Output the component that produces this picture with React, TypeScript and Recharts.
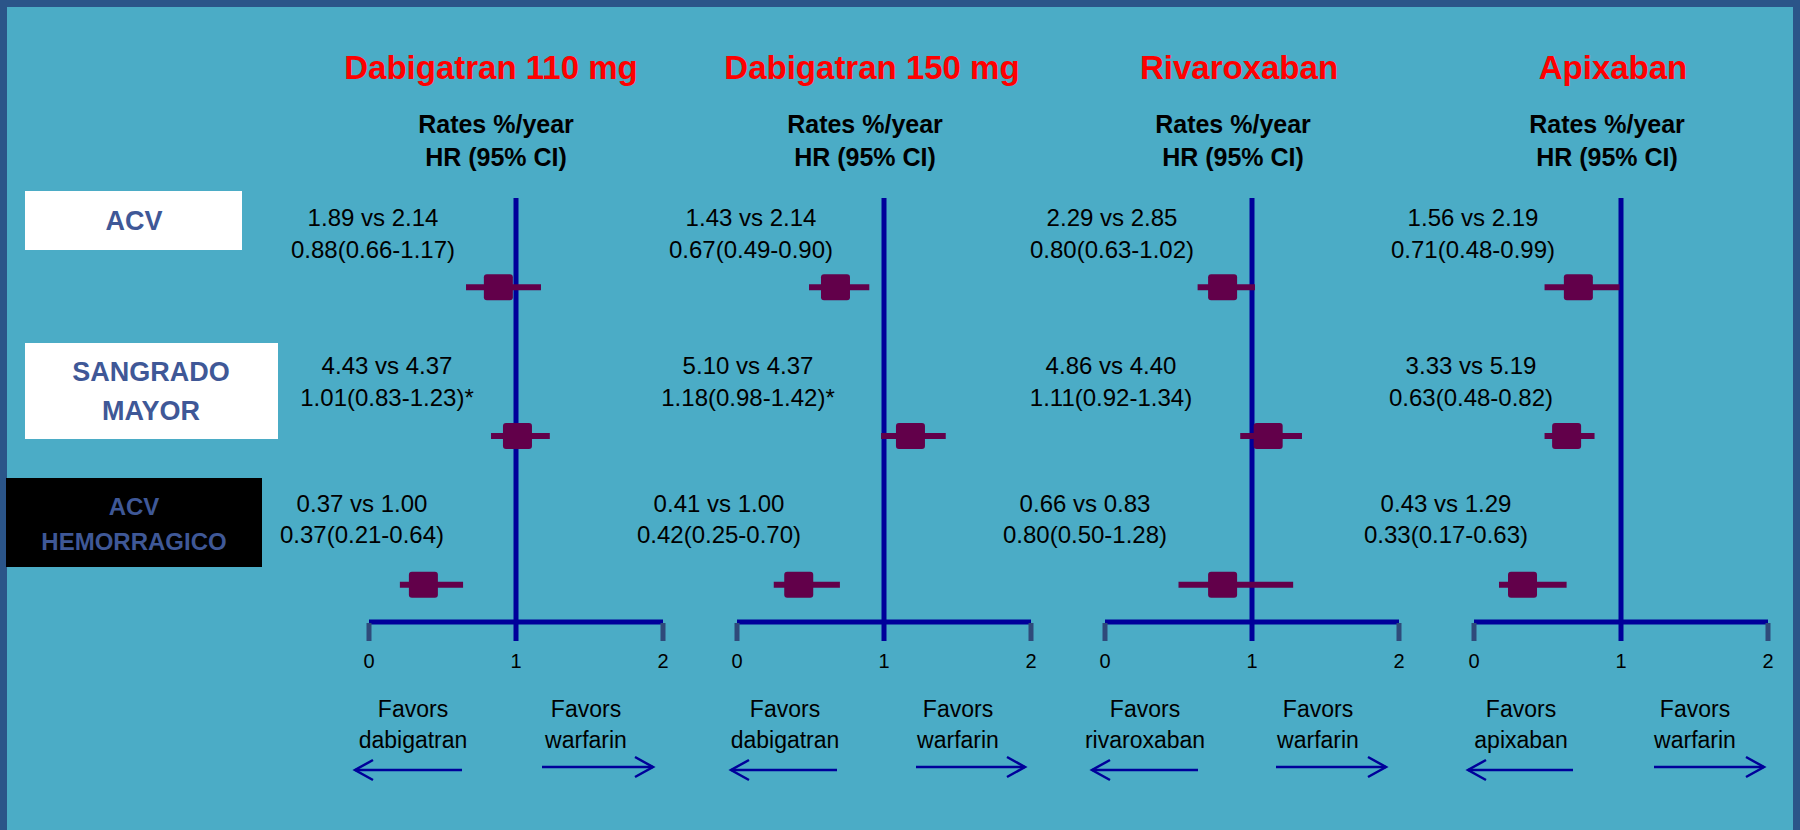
import React from 'react';
import { ScatterChart, Scatter, XAxis, YAxis, ErrorBar, ReferenceLine } from 'recharts';

// forest plot: NOACs vs warfarin, one small chart per drug
const DRUGS = ['Dabigatran 110 mg', 'Dabigatran 150 mg', 'Rivaroxaban', 'Apixaban'];
const FAVORS = ['dabigatran', 'dabigatran', 'rivaroxaban', 'apixaban'];
const OUTCOMES = [['ACV'], ['SANGRADO', 'MAYOR'], ['ACV', 'HEMORRAGICO']];

// rates %/year, drug vs warfarin (rows: ACV, sangrado mayor, ACV hemorragico)
const DRUG_RATE = [[1.89, 4.43, 0.37], [1.43, 5.10, 0.41], [2.29, 4.86, 0.66], [1.56, 3.33, 0.43]];
const WARF_RATE = [[2.14, 4.37, 1.00], [2.14, 4.37, 1.00], [2.85, 4.40, 0.83], [2.19, 5.19, 1.29]];
const HR = [[0.88, 1.01, 0.37], [0.67, 1.18, 0.42], [0.80, 1.11, 0.80], [0.71, 0.63, 0.33]];
const HR_LO = [[0.66, 0.83, 0.21], [0.49, 0.98, 0.25], [0.63, 0.92, 0.50], [0.48, 0.48, 0.17]];
const HR_HI = [[1.17, 1.23, 0.64], [0.90, 1.42, 0.70], [1.02, 1.34, 1.28], [0.99, 0.82, 0.63]];
const MARK = [['', '*', ''], ['', '*', ''], ['', '', ''], ['', '', '']];
const X_TICKS = [0, 1, 2];

// layout (page pixels)
const FONT = "'Liberation Sans', Arial, sans-serif";
const PANEL_X0 = [369, 737, 1105, 1474];
const AXIS_W = 294;
const M = 60;
const PLOT_TOP = 198;
const AXIS_Y = 622;
const TITLE_CX = [491, 872, 1239, 1613];
const RATES_CX = [496, 865, 1233, 1607];
const TEXT_CX = [[373, 387, 362], [751, 748, 719], [1112, 1111, 1085], [1473, 1471, 1446]];
const ROW_BASE = [[226, 258], [374, 406], [512, 543]];
const FAV_CX = [[413, 586], [785, 958], [1145, 1318], [1521, 1695]];
const ARROW_L = [[355, 462], [731, 837], [1092, 1198], [1468, 1573]];
const ARROW_R = [[542, 653], [916, 1025], [1276, 1386], [1654, 1764]];

const NAVY = '#00009a';
const PLUM = '#62004a';
const SLATE = '#3f5897';

const Txt = ({ x, y, size, bold, color = '#000', children }: any) => (
  <div
    style={{
      position: 'absolute',
      left: x - 300,
      width: 600,
      top: y - 0.8465 * size,
      textAlign: 'center',
      fontFamily: FONT,
      fontSize: size,
      lineHeight: `${size}px`,
      fontWeight: bold ? 700 : 400,
      color,
      whiteSpace: 'nowrap',
    }}
  >
    {children}
  </div>
);

const AxisTick = ({ x, payload }: any) => {
  const v = payload.value;
  return (
    <g>
      <line x1={x} x2={x} y1={v === 1 ? AXIS_Y : AXIS_Y + 1} y2={641} stroke={v === 1 ? NAVY : '#2f4a7a'} strokeWidth={5} />
      <text x={x} y={668} textAnchor="middle" fontSize={20} fontFamily={FONT} fill="#000">
        {v}
      </text>
    </g>
  );
};

const Box = (props: any) => {
  const { cx, cy } = props;
  return <rect x={cx - 14.5} y={cy - 13} width={29} height={26} rx={3} fill={PLUM} />;
};

const Panel = ({ i }: { i: number }) => {
  const rows = HR[i].map((hr, r) => ({
    row: r,
    hr,
    err: [hr - HR_LO[i][r], HR_HI[i][r] - hr],
  }));
  return (
    <div style={{ position: 'absolute', left: PANEL_X0[i] - M, top: 0 }}>
      <ScatterChart width={AXIS_W + 2 * M} height={700} margin={{ top: PLOT_TOP, right: M, bottom: 700 - AXIS_Y - 30, left: M }}>
        <XAxis
          type="number"
          dataKey="hr"
          domain={[0, 2]}
          ticks={X_TICKS}
          height={30}
          axisLine={{ stroke: NAVY, strokeWidth: 5 }}
          tickLine={false}
          tickSize={0}
          tick={<AxisTick />}
          allowDataOverflow
        />
        <YAxis type="number" dataKey="row" domain={[-0.6, 2.25]} reversed hide />
        <ReferenceLine x={1} stroke={NAVY} strokeWidth={5} />
        <Scatter data={rows} shape={<Box />} isAnimationActive={false}>
          <ErrorBar dataKey="err" direction="x" width={0} stroke={PLUM} strokeWidth={6} />
        </Scatter>
      </ScatterChart>
    </div>
  );
};

const Arrow = ({ x1, x2, y, left }: any) => {
  const tip = left ? x1 : x2;
  const d = left ? 18 : -18;
  return (
    <g stroke={NAVY} strokeWidth={2.5} fill="none">
      <line x1={x1} x2={x2} y1={y} y2={y} />
      <polyline points={`${tip + d},${y - 10} ${tip},${y} ${tip + d},${y + 10}`} />
    </g>
  );
};

export default function App() {
  return (
    <div style={{ position: 'absolute', left: 0, top: 0, width: 1800, height: 830, overflow: 'hidden', background: '#4bacc6' }}>
      <div style={{ position: 'absolute', left: 0, top: 0, width: 1800, height: 7, background: '#2b5589' }} />
      <div style={{ position: 'absolute', left: 0, top: 0, width: 7, height: 830, background: '#2b5589' }} />
      <div style={{ position: 'absolute', right: 0, top: 0, width: 7, height: 830, background: '#2b5589' }} />

      {/* outcome labels */}
      <div style={{ position: 'absolute', left: 25, top: 191, width: 217, height: 59, background: '#fff' }} />
      <div style={{ position: 'absolute', left: 25, top: 343, width: 253, height: 96, background: '#fff' }} />
      <div style={{ position: 'absolute', left: 6, top: 478, width: 256, height: 89, background: '#000' }} />
      <Txt x={134} y={231} size={27} bold color={SLATE}>{OUTCOMES[0][0]}</Txt>
      <Txt x={151} y={382} size={27} bold color={SLATE}>{OUTCOMES[1][0]}</Txt>
      <Txt x={151} y={421} size={27} bold color={SLATE}>{OUTCOMES[1][1]}</Txt>
      <Txt x={134} y={515} size={24} bold color={SLATE}>{OUTCOMES[2][0]}</Txt>
      <Txt x={134} y={550} size={24} bold color={SLATE}>{OUTCOMES[2][1]}</Txt>

      {DRUGS.map((d, i) => (
        <React.Fragment key={d + i}>
          <Txt x={TITLE_CX[i]} y={79} size={33} bold color="#ff0000">{d}</Txt>
          <Txt x={RATES_CX[i]} y={133} size={25} bold>Rates %/year</Txt>
          <Txt x={RATES_CX[i]} y={166} size={25} bold>HR (95% CI)</Txt>
          {HR[i].map((hr, r) => (
            <React.Fragment key={r}>
              <Txt x={TEXT_CX[i][r]} y={ROW_BASE[r][0]} size={24}>
                {`${DRUG_RATE[i][r].toFixed(2)} vs ${WARF_RATE[i][r].toFixed(2)}`}
              </Txt>
              <Txt x={TEXT_CX[i][r]} y={ROW_BASE[r][1]} size={24}>
                {`${hr.toFixed(2)}(${HR_LO[i][r].toFixed(2)}-${HR_HI[i][r].toFixed(2)})${MARK[i][r]}`}
              </Txt>
            </React.Fragment>
          ))}
          <Panel i={i} />
          <Txt x={FAV_CX[i][0]} y={717} size={23}>Favors</Txt>
          <Txt x={FAV_CX[i][0]} y={748} size={23}>{FAVORS[i]}</Txt>
          <Txt x={FAV_CX[i][1]} y={717} size={23}>Favors</Txt>
          <Txt x={FAV_CX[i][1]} y={748} size={23}>warfarin</Txt>
        </React.Fragment>
      ))}

      <svg width={1800} height={830} style={{ position: 'absolute', left: 0, top: 0, pointerEvents: 'none' }}>
        {DRUGS.map((d, i) => (
          <g key={d + i}>
            <Arrow x1={ARROW_L[i][0]} x2={ARROW_L[i][1]} y={770} left />
            <Arrow x1={ARROW_R[i][0]} x2={ARROW_R[i][1]} y={767} />
          </g>
        ))}
      </svg>
    </div>
  );
}
